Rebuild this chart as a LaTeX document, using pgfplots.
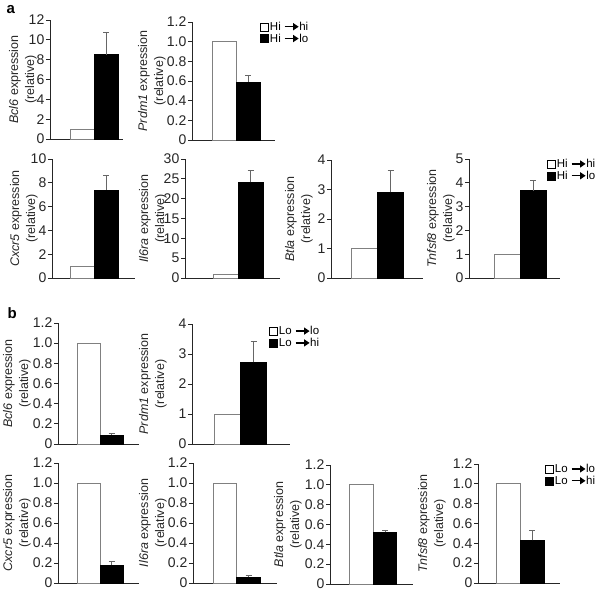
\documentclass[border=0pt]{standalone}
\usepackage{pgfplots}
\pgfplotsset{compat=1.18}
\usetikzlibrary{arrows.meta}
\usepackage{fontspec}
\setmainfont{Liberation Sans}

\newcommand{\arr}{\tikz[baseline=-0.6ex]\draw[black,line width=1.3pt,-{Triangle[length=5.5pt,width=7pt]}](0,0)--(14pt,0);}

\pgfplotsset{
  base/.style={
    scale only axis, anchor=south west, xmin=0, ymin=0,
    axis x line*=bottom, axis y line*=left,
    xtick=\empty,
    tick align=outside, major tick length=4pt,
    axis line style={black!85, line width=0.8pt},
    every tick/.style={black!85, line width=0.8pt},
    yticklabel style={font=\fontsize{14}{14}\selectfont, inner sep=1.5pt, text=black!85},
    /pgf/number format/assume math mode=true,
    clip=false,
  },
  lab/.style={every axis y label/.style={at={(axis description cs:0,0.5)}, xshift=-#1pt, rotate=90, anchor=south, inner sep=0pt, align=center, text=black!85, font=\fontsize{12.5}{16}\selectfont}},
  leg/.style 2 args={legend style={draw=none, fill=none, at={(axis description cs:#1,#2)}, anchor=north west, inner sep=0pt, row sep=0pt, nodes={inner sep=1pt, font=\fontsize{11.5}{12}\selectfont}}, legend cell align=left},
  wbar/.style={ybar, bar shift=0pt, bar width=#1, fill=white, draw=black!50, line width=0.8pt,
    legend image code/.code={\draw[black, fill=white, line width=0.7pt] (0pt,-4pt) rectangle (8pt,4pt);}},
  bbar/.style={ybar, bar shift=0pt, bar width=#1, fill=black, draw=black, line width=0.8pt,
    legend image code/.code={\draw[black, fill=black, line width=0.7pt] (0pt,-4pt) rectangle (8pt,4pt);},
    error bars/.cd, y dir=plus, y explicit, error mark=|, error bar style={black!60, line width=0.8pt},
    error mark options={black!60, line width=0.8pt, mark size=3pt}},
  one/.style={ytick={0,0.2,0.4,0.6,0.8,1.0,1.2}, yticklabels={0,0.2,0.4,0.6,0.8,1.0,1.2}},
}

\begin{document}
\begin{tikzpicture}
\path[use as bounding box] (0,0) rectangle (600pt,-594pt);
\node[anchor=base west, font=\fontsize{15}{15}\selectfont\bfseries] at (3pt,-14pt) {a};
\node[anchor=base west, font=\fontsize{15}{15}\selectfont\bfseries] at (4pt,-318pt) {b};

% ---- panel a, row 1 ----
\begin{axis}[base, lab=13, at={(50pt,-139pt)}, width=73pt, height=119pt, xmax=73, ymax=12, ytick={0,2,...,12},
  ylabel={\textit{Bcl6} expression\\(relative)}]
\addplot[wbar=24] coordinates {(32,1)};
\addplot[bbar=24] coordinates {(56,8.5) +- (0,2.2)};
\end{axis}

\begin{axis}[base, lab=26, one, at={(192pt,-140pt)}, width=83pt, height=118pt, xmax=83, ymax=1.2,
  ylabel={\textit{Prdm1} expression\\(relative)}, leg={0.82}{1.01}]
\addplot[wbar=24] coordinates {(32,1)};
\addlegendentry{Hi \arr hi}
\addplot[bbar=24] coordinates {(56,0.59) +- (0,0.07)};
\addlegendentry{Hi \arr lo}
\end{axis}

% ---- panel a, row 2 ----
\begin{axis}[base, lab=14, at={(52pt,-278pt)}, width=83pt, height=119pt, xmax=83, ymax=10, ytick={0,2,...,10},
  ylabel={\textit{Cxcr5} expression\\(relative)}]
\addplot[wbar=24] coordinates {(30,1)};
\addplot[bbar=24] coordinates {(54,7.4) +- (0,1.2)};
\end{axis}

\begin{axis}[base, lab=18, at={(185pt,-278pt)}, width=95pt, height=119pt, xmax=95, ymax=30, ytick={0,5,...,30},
  ylabel={\textit{Il6ra} expression\\(relative)}]
\addplot[wbar=25] coordinates {(40.5,1)};
\addplot[bbar=25] coordinates {(65.5,24.1) +- (0,3.0)};
\end{axis}

\begin{axis}[base, lab=18, at={(331pt,-278pt)}, width=92pt, height=118pt, xmax=92, ymax=4, ytick={0,1,...,4},
  ylabel={\textit{Btla} expression\\(relative)}]
\addplot[wbar=26] coordinates {(33,1)};
\addplot[bbar=26] coordinates {(59.5,2.9) +- (0,0.75)};
\end{axis}

\begin{axis}[base, lab=14, at={(469pt,-278pt)}, width=91pt, height=119pt, xmax=91, ymax=5, ytick={0,1,...,5},
  ylabel={\textit{Tnfsf8} expression\\(relative)}, leg={0.857}{1.008}]
\addplot[wbar=26] coordinates {(38,1)};
\addlegendentry{Hi \arr hi}
\addplot[bbar=26] coordinates {(64,3.67) +- (0,0.43)};
\addlegendentry{Hi \arr lo}
\end{axis}

% ---- panel b, row 1 ----
\begin{axis}[base, lab=27, one, at={(58pt,-444pt)}, width=81pt, height=121pt, xmax=81, ymax=1.2,
  ylabel={\textit{Bcl6} expression\\(relative)}]
\addplot[wbar=23] coordinates {(30.5,1)};
\addplot[bbar=23] coordinates {(53.5,0.09) +- (0,0.015)};
\end{axis}

\begin{axis}[base, lab=25, at={(192pt,-444pt)}, width=98pt, height=120pt, xmax=98, ymax=4, ytick={0,1,...,4},
  ylabel={\textit{Prdm1} expression\\(relative)}, leg={0.786}{0.99}]
\addplot[wbar=26] coordinates {(35.5,1)};
\addlegendentry{Lo \arr lo}
\addplot[bbar=26] coordinates {(61.5,2.72) +- (0,0.7)};
\addlegendentry{Lo \arr hi}
\end{axis}

% ---- panel b, row 2 ----
\begin{axis}[base, lab=27, one, at={(58pt,-583pt)}, width=81pt, height=120pt, xmax=81, ymax=1.2,
  ylabel={\textit{Cxcr5} expression\\(relative)}]
\addplot[wbar=23] coordinates {(30.5,1)};
\addplot[bbar=23] coordinates {(53.5,0.18) +- (0,0.035)};
\end{axis}

\begin{axis}[base, lab=26, one, at={(193pt,-583pt)}, width=84pt, height=120pt, xmax=84, ymax=1.2,
  ylabel={\textit{Il6ra} expression\\(relative)}]
\addplot[wbar=23.5] coordinates {(32,1)};
\addplot[bbar=23.5] coordinates {(55.5,0.06) +- (0,0.02)};
\end{axis}

\begin{axis}[base, lab=28, one, at={(330pt,-584pt)}, width=83pt, height=119pt, xmax=83, ymax=1.2,
  ylabel={\textit{Btla} expression\\(relative)}]
\addplot[wbar=23.5] coordinates {(31.5,1)};
\addplot[bbar=23.5] coordinates {(55,0.52) +- (0,0.02)};
\end{axis}

\begin{axis}[base, lab=32, one, at={(478pt,-583pt)}, width=82pt, height=119pt, xmax=82, ymax=1.2,
  ylabel={\textit{Tnfsf8} expression\\(relative)}, leg={0.817}{1.008}]
\addplot[wbar=24] coordinates {(30,1)};
\addlegendentry{Lo \arr lo}
\addplot[bbar=24] coordinates {(54,0.43) +- (0,0.1)};
\addlegendentry{Lo \arr hi}
\end{axis}
\end{tikzpicture}
\end{document}
